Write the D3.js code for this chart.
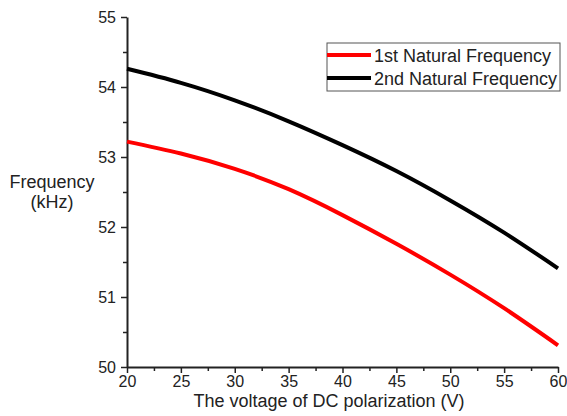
<!DOCTYPE html>
<html>
<head>
<meta charset="utf-8">
<script src="https://cdn.jsdelivr.net/npm/d3@7"></script>
<style>
  body { margin: 0; background: #fff; }
  text { font-family: "Liberation Sans", Arial, sans-serif; fill: #222; }
</style>
</head>
<body>
<div id="root"></div>
<script>
const width = 567
const height = 416

// values
const voltage = [20, 25, 30, 35, 40, 45, 50, 55, 60]
const firstFreq = [53.22, 53.05, 52.83, 52.54, 52.17, 51.76, 51.32, 50.84, 50.31]
const secondFreq = [54.26, 54.06, 53.81, 53.51, 53.17, 52.80, 52.38, 51.92, 51.41]
const xTicks = [20, 25, 30, 35, 40, 45, 50, 55, 60]
const yTicks = [50, 51, 52, 53, 54, 55]
const seriesNames = ['1st Natural Frequency', '2nd Natural Frequency']
const seriesColors = ['#ff0000', '#000000']

const margin = { left: 127, right: 9, top: 17, bottom: 49 }

const svg = d3.select('#root').append('svg')
  .attr('width', width)
  .attr('height', height)

const x = d3.scaleLinear()
  .domain([20, 60])
  .range([margin.left, width - margin.right])

const y = d3.scaleLinear()
  .domain([50, 55])
  .range([height - margin.bottom, margin.top])

// minor ticks
svg.append('g')
  .attr('transform', `translate(0,${y(50)})`)
  .call(d3.axisBottom(x).tickValues(d3.range(22.5, 60, 5)).tickSize(4).tickFormat(''))
  .call(g => g.select('.domain').remove())
  .selectAll('line').attr('stroke', '#222').attr('stroke-width', 1.5)

svg.append('g')
  .attr('transform', `translate(${x(20)},0)`)
  .call(d3.axisLeft(y).tickValues(d3.range(50.5, 55, 1)).tickSize(4).tickFormat(''))
  .call(g => g.select('.domain').remove())
  .selectAll('line').attr('stroke', '#222').attr('stroke-width', 1.5)

// major axes
const xAxis = svg.append('g')
  .attr('transform', `translate(0,${y(50)})`)
  .call(d3.axisBottom(x).tickValues(xTicks).tickFormat(d3.format('d')).tickSize(6).tickSizeOuter(0).tickPadding(3))
xAxis.select('.domain').attr('stroke', '#222').attr('stroke-width', 2)
xAxis.selectAll('.tick line').attr('stroke', '#222').attr('stroke-width', 1.5)
xAxis.selectAll('text').style('font-size', '16px').attr('fill', '#222')

const yAxis = svg.append('g')
  .attr('transform', `translate(${x(20)},0)`)
  .call(d3.axisLeft(y).tickValues(yTicks).tickFormat(d3.format('d')).tickSize(6).tickSizeOuter(0).tickPadding(5))
yAxis.select('.domain').attr('stroke', '#222').attr('stroke-width', 2)
yAxis.selectAll('.tick line').attr('stroke', '#222').attr('stroke-width', 1.5)
yAxis.selectAll('text').style('font-size', '16px').attr('fill', '#222')

// axis titles
svg.append('text')
  .attr('x', 329)
  .attr('y', 407)
  .attr('text-anchor', 'middle')
  .style('font-size', '18px')
  .text('The voltage of DC polarization (V)')

svg.append('text')
  .attr('x', 52)
  .attr('y', 188)
  .attr('text-anchor', 'middle')
  .style('font-size', '18px')
  .text('Frequency')

svg.append('text')
  .attr('x', 52)
  .attr('y', 208)
  .attr('text-anchor', 'middle')
  .style('font-size', '18px')
  .text('(kHz)')

// curves
const line = d3.line()
  .x((d, i) => x(voltage[i]))
  .y(d => y(d))
  .curve(d3.curveNatural)

;[firstFreq, secondFreq].forEach((vals, i) => {
  svg.append('path')
    .datum(vals)
    .attr('d', line)
    .attr('fill', 'none')
    .attr('stroke', seriesColors[i])
    .attr('stroke-width', 4)
})

// legend
const legend = svg.append('g').attr('transform', 'translate(327,43)')
legend.append('rect')
  .attr('width', 233)
  .attr('height', 48)
  .attr('fill', '#fff')
  .attr('stroke', '#555')
  .attr('stroke-width', 1)

seriesNames.forEach((name, i) => {
  const row = legend.append('g').attr('transform', `translate(0,${12 + i * 23})`)
  row.append('line')
    .attr('x1', 0).attr('x2', 44)
    .attr('stroke', seriesColors[i])
    .attr('stroke-width', 4)
  row.append('text')
    .attr('x', 47)
    .attr('y', 6.5)
    .style('font-size', '18px')
    .text(name)
})
</script>
</body>
</html>
